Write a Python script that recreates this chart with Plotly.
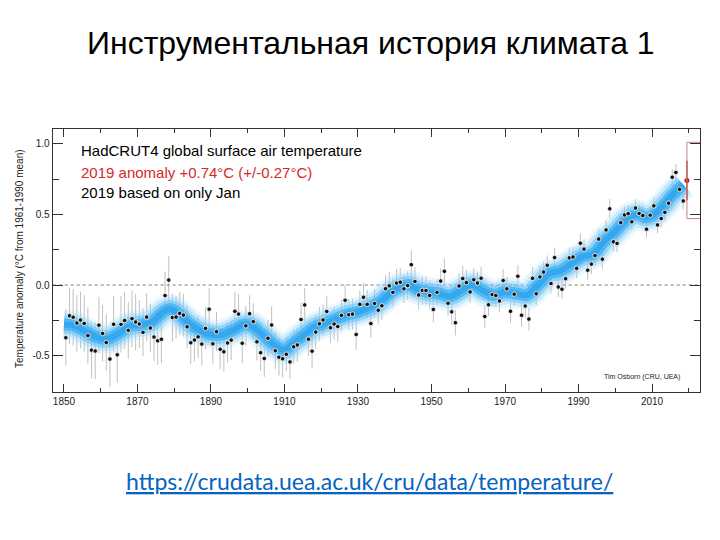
import plotly.graph_objects as go

# ---------------- data ----------------
years = list(range(1850, 2019))
anomaly = [
    -0.373, -0.218, -0.228, -0.269, -0.248, -0.272, -0.358, -0.461, -0.467, -0.284,  # 1850s
    -0.343, -0.407, -0.524, -0.278, -0.494, -0.279, -0.251, -0.321, -0.238, -0.262,  # 1860s
    -0.276, -0.335, -0.227, -0.304, -0.368, -0.395, -0.384, -0.075, 0.035, -0.230,   # 1870s
    -0.227, -0.200, -0.213, -0.296, -0.409, -0.389, -0.367, -0.418, -0.307, -0.171,  # 1880s
    -0.416, -0.330, -0.455, -0.473, -0.410, -0.390, -0.186, -0.206, -0.412, -0.289,  # 1890s
    -0.203, -0.259, -0.402, -0.479, -0.520, -0.377, -0.283, -0.465, -0.511, -0.522,  # 1900s
    -0.490, -0.544, -0.437, -0.424, -0.244, -0.141, -0.383, -0.468, -0.333, -0.275,  # 1910s
    -0.247, -0.187, -0.302, -0.276, -0.294, -0.215, -0.108, -0.210, -0.206, -0.350,  # 1920s
    -0.137, -0.087, -0.137, -0.273, -0.131, -0.178, -0.147, -0.026, -0.006, -0.052,  # 1930s
    0.014, 0.020, -0.027, -0.004, 0.144, 0.025, -0.071, -0.038, -0.039, -0.074,      # 1940s
    -0.173, -0.052, 0.028, 0.097, -0.129, -0.190, -0.267, -0.007, 0.046, 0.017,      # 1950s
    -0.049, 0.038, 0.014, 0.048, -0.223, -0.140, -0.068, -0.074, -0.113, 0.032,      # 1960s
    -0.027, -0.186, -0.065, 0.062, -0.214, -0.149, -0.241, 0.047, -0.062, 0.057,     # 1970s
    0.092, 0.140, 0.011, 0.194, -0.014, -0.030, 0.045, 0.192, 0.198, 0.118,          # 1980s
    0.296, 0.254, 0.105, 0.148, 0.208, 0.325, 0.183, 0.390, 0.539, 0.306,            # 1990s
    0.294, 0.441, 0.496, 0.505, 0.447, 0.545, 0.506, 0.491, 0.395, 0.494,            # 2000s
    0.560, 0.425, 0.470, 0.514, 0.579, 0.763, 0.797, 0.677, 0.595,                   # 2010s
]
# half-length of the grey uncertainty bars, one value per decade (1850s ... 2010s)
decade_err = [0.20, 0.20, 0.17, 0.15, 0.14, 0.13, 0.12, 0.11, 0.10,
              0.10, 0.09, 0.08, 0.08, 0.07, 0.07, 0.06, 0.06]

# smoothed curve (blue band)
smooth_years = [1850, 1853, 1856, 1859, 1862, 1865, 1868, 1871, 1874, 1877, 1879,
                1881, 1884, 1887, 1890, 1893, 1896, 1899, 1901, 1904, 1907, 1910,
                1912, 1915, 1918, 1921, 1924, 1927, 1930, 1933, 1936, 1939, 1942,
                1944, 1946, 1949, 1952, 1955, 1958, 1961, 1964, 1967, 1970, 1973,
                1976, 1979, 1982, 1985, 1988, 1991, 1994, 1997, 2000, 2003, 2006,
                2008, 2010, 2013, 2016, 2018.5]
smooth_vals = [-0.28, -0.29, -0.33, -0.37, -0.38, -0.34, -0.29, -0.28, -0.26, -0.19, -0.17,
               -0.20, -0.27, -0.32, -0.35, -0.35, -0.32, -0.28, -0.29, -0.35, -0.42, -0.46,
               -0.42, -0.36, -0.30, -0.27, -0.24, -0.21, -0.19, -0.16, -0.12, -0.05, -0.01,
               0.00, -0.03, -0.05, -0.06, -0.08, -0.04, 0.00, -0.04, -0.07, -0.05, -0.06,
               -0.07, 0.00, 0.08, 0.10, 0.15, 0.20, 0.22, 0.31, 0.38, 0.46, 0.50,
               0.48, 0.49, 0.56, 0.65, 0.71]

latest_year = 2019
latest_val = 0.74
latest_err_month = 0.14
latest_unc = 0.27

xtick_vals = [1850, 1870, 1890, 1910, 1930, 1950, 1970, 1990, 2010]
ytick_vals = [-0.5, 0.0, 0.5, 1.0]
ytick_text = ["-0.5", "0.0", "0.5", "1.0"]

# ---------------- figure ----------------
# the page body has an 8 px default margin: build a figure that fills the rest
OFF = 8
W, H = 720 - OFF, 540 - OFF
FONT = "Liberation Sans, Arial, Helvetica, sans-serif"


def px(x):
    return (x - OFF) / W


def py(y):
    return 1 - (y - OFF) / H


x_mid = [y + 0.5 for y in years]
errs = [decade_err[(y - 1850) // 10] for y in years]

fig = go.Figure()

# grey uncertainty bars
fig.add_trace(go.Scatter(
    x=x_mid, y=anomaly, mode="markers",
    marker=dict(size=1, color="rgba(0,0,0,0)"),
    error_y=dict(type="data", array=errs, visible=True, thickness=0.8, width=0,
                 color="rgba(110,110,110,0.55)"),
    hoverinfo="skip", showlegend=False))

# blue fuzzy smoothed band
for w, c in [(30, "rgba(175,222,252,0.25)"), (24, "rgba(135,208,250,0.35)"),
             (18, "rgba(95,190,246,0.5)"), (12, "rgba(62,176,242,0.75)"),
             (6, "rgba(45,163,238,0.8)")]:
    fig.add_trace(go.Scatter(
        x=smooth_years, y=smooth_vals, mode="lines",
        line=dict(color=c, width=w, shape="spline", smoothing=1.0),
        hoverinfo="skip", showlegend=False))

# annual points
fig.add_trace(go.Scatter(
    x=x_mid, y=anomaly, mode="markers",
    marker=dict(size=4.5, color="#111111", line=dict(width=0.8, color="white")),
    showlegend=False))

# 2019 point
x_latest = latest_year + 0.5
fig.add_trace(go.Scatter(
    x=[x_latest], y=[latest_val], mode="markers",
    marker=dict(size=5, color="#b22222"),
    error_y=dict(type="data", array=[latest_err_month], visible=True,
                 thickness=1.5, width=0, color="#c0392b"),
    showlegend=False))

shapes = [
    dict(type="line", xref="x domain", yref="y", x0=0, x1=1, y0=0, y1=0,
         line=dict(color="#777777", width=1, dash="dot"), layer="below"),
    dict(type="rect", xref="x", yref="y", x0=x_latest, x1=x_latest + 4,
         y0=latest_val - latest_unc, y1=latest_val + latest_unc,
         line=dict(color="#c98080", width=1), fillcolor="rgba(0,0,0,0)"),
]

axis_common = dict(showline=True, linecolor="#333333", linewidth=1, mirror="ticks",
                   ticks="inside", tickcolor="#333333", showgrid=False, zeroline=False,
                   tickfont=dict(family=FONT, size=10, color="#222222"))

fig.update_layout(
    width=W, height=H, autosize=False,
    margin=dict(l=0, r=0, t=0, b=0, pad=0),
    paper_bgcolor="white", plot_bgcolor="white",
    showlegend=False,
    shapes=shapes,
    xaxis=dict(domain=[px(52.7), px(700)], range=[1846.93, 2023.06], tickvals=xtick_vals,
               ticklen=8, minor=dict(dtick=10, tick0=1850, ticklen=4, ticks="inside",
                                     tickcolor="#333333"),
               **axis_common),
    yaxis=dict(domain=[py(391.7), py(129)], range=[-0.755, 1.104], tickvals=ytick_vals,
               ticktext=ytick_text, ticklen=10,
               minor=dict(dtick=0.25, tick0=0, ticklen=6, ticks="inside",
                          tickcolor="#333333"),
               **axis_common),
)

ann = [
    dict(text="Инструментальная история климата 1", x=px(371), y=py(43),
         font=dict(family=FONT, size=32, color="black"), xanchor="center", yanchor="middle"),
    dict(text="<u>https://crudata.uea.ac.uk/cru/data/temperature/</u>", x=px(369), y=py(481),
         font=dict(family="Lato, Carlito, sans-serif", size=23, color="#0563c1"),
         xanchor="center", yanchor="middle"),
    dict(text="HadCRUT4 global surface air temperature", x=px(79), y=py(150),
         font=dict(family=FONT, size=15, color="black"), xanchor="left", yanchor="middle"),
    dict(text="2019 anomaly +0.74°C (+/-0.27°C)", x=px(79), y=py(172),
         font=dict(family=FONT, size=15, color="#d42a2a"), xanchor="left", yanchor="middle"),
    dict(text="2019 based on only Jan", x=px(79), y=py(192),
         font=dict(family=FONT, size=15, color="black"), xanchor="left", yanchor="middle"),
    dict(text="Tim Osborn (CRU, UEA)", x=px(682), y=py(377),
         font=dict(family=FONT, size=7, color="#222222"), xanchor="right", yanchor="middle"),
    dict(text="Temperature anomaly (°C from 1961-1990 mean)", x=px(20), y=py(259),
         textangle=-90, font=dict(family=FONT, size=10, color="#222222"),
         xanchor="center", yanchor="middle"),
]
for a in ann:
    a.update(xref="paper", yref="paper", showarrow=False)
fig.update_layout(annotations=ann)

fig.write_html("out.html")
